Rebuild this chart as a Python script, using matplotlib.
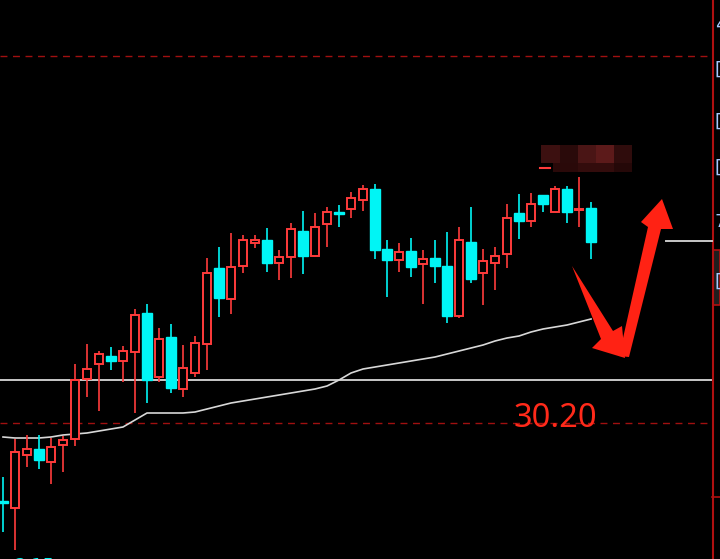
import matplotlib
matplotlib.use("Agg")
import matplotlib.pyplot as plt
from matplotlib.patches import Rectangle, Polygon

# daily candles, oldest first
opens  = [29.42, 29.35, 29.88, 29.94, 29.81, 29.98, 30.04, 30.64, 30.79, 30.87,
          30.82, 30.91, 31.30, 30.66, 31.06, 30.54, 30.70, 30.99, 31.75, 31.44,
          31.77, 32.00, 32.03, 31.80, 31.86, 32.12, 31.87, 32.19, 32.31, 32.34,
          32.43, 32.54, 31.94, 31.83, 31.92, 31.79, 31.85, 31.77, 31.27, 32.01,
          31.70, 31.80, 31.89, 32.30, 32.22, 32.48, 32.31, 32.54, 32.33, 32.35]
highs  = [29.66, 30.04, 30.08, 30.08, 30.05, 30.07, 30.79, 30.99, 30.92, 30.96,
          30.97, 31.34, 31.39, 31.15, 31.19, 30.98, 31.07, 31.85, 31.96, 32.10,
          32.08, 32.08, 32.15, 31.93, 32.20, 32.32, 32.30, 32.36, 32.38, 32.51,
          32.58, 32.59, 32.03, 32.00, 32.05, 31.93, 32.03, 32.11, 32.16, 32.36,
          31.94, 31.96, 32.39, 32.49, 32.50, 32.48, 32.57, 32.57, 32.66, 32.41]
lows   = [29.11, 28.93, 29.76, 29.74, 29.59, 29.71, 29.97, 30.46, 30.32, 30.73,
          30.61, 30.30, 30.40, 30.61, 30.50, 30.46, 30.66, 30.73, 31.26, 31.29,
          31.70, 31.95, 31.71, 31.63, 31.65, 31.69, 31.87, 31.96, 32.16, 32.25,
          32.32, 31.84, 31.46, 31.71, 31.66, 31.39, 31.60, 31.20, 31.25, 31.60,
          31.38, 31.53, 31.75, 32.04, 32.16, 32.31, 32.31, 32.20, 32.16, 31.84]
closes = [29.40, 29.91, 29.94, 29.83, 29.96, 30.03, 30.63, 30.74, 30.89, 30.82,
          30.92, 31.28, 30.63, 31.04, 30.55, 30.75, 31.00, 31.70, 31.45, 31.76,
          32.03, 32.03, 31.80, 31.86, 32.14, 31.87, 32.16, 32.31, 32.29, 32.45,
          32.54, 31.93, 31.83, 31.91, 31.76, 31.84, 31.77, 31.27, 32.03, 31.64,
          31.82, 31.87, 32.25, 32.22, 32.39, 32.39, 32.54, 32.31, 32.34, 32.01]
ma_line = [30.06, 30.05, 30.05, 30.05, 30.06, 30.08, 30.09, 30.10, 30.12, 30.14,
           30.16, 30.23, 30.30, 30.30, 30.30, 30.30, 30.31, 30.34, 30.37, 30.40,
           30.42, 30.44, 30.46, 30.48, 30.50, 30.52, 30.54, 30.57, 30.63, 30.70,
           30.74, 30.76, 30.78, 30.80, 30.82, 30.84, 30.86, 30.89, 30.92, 30.95,
           30.98, 31.02, 31.05, 31.07, 31.11, 31.14, 31.16, 31.18, 31.21, 31.24]
ref_level = 30.63       # white horizontal line
dash_levels = [33.87, 30.20]
mark_label = "30.20"

UP = '#ff3b3b'
DOWN = '#00f5f5'

fig = plt.figure(figsize=(7.2, 5.59), dpi=100, facecolor='black')
ax = fig.add_axes([0, 0, 712 / 720, 1])
ax.set_facecolor('black')
ax.set_xlim(-0.25, 59.08)
ax.set_ylim(28.84, 34.43)
ax.axis('off')

ax.axhline(ref_level, color='#c8c8c8', lw=1.4, zorder=1)
for lv in dash_levels:
    ax.axhline(lv, color='#a01010', lw=1.0, ls=(0, (5, 4)), zorder=1)

ax.plot(range(len(ma_line)), ma_line, color='#d8d8d8', lw=1.2, zorder=2)

for i in range(len(opens)):
    o, h, l, c = opens[i], highs[i], lows[i], closes[i]
    up = c >= o
    col = UP if up else DOWN
    ax.vlines(i, l, h, color=col, lw=1.2, zorder=3)
    bot, top = min(o, c), max(o, c)
    if up:
        ax.add_patch(Rectangle((i - 0.36, bot), 0.72, max(top - bot, 0.005),
                               facecolor='black', edgecolor=col, lw=1.4, zorder=4))
    else:
        ax.add_patch(Rectangle((i - 0.38, bot), 0.76, max(top - bot, 0.02),
                               facecolor=col, edgecolor=col, lw=1.0, zorder=4))

ax.text(46.0, 30.25, mark_label, color='#ff2a1a', fontsize=23.5,
        family='Noto Sans', ha='center', va='center', zorder=5)

# pixel helper for overlay annotations (figure pixels, origin top-left)
def fp(x, y):
    return (x / 720, 1 - y / 559)

# pixelated (blurred) label near the high
mosaic = [(541, 145, 19, 18, '#3c1010'), (560, 145, 18, 18, '#2a0a0a'),
          (578, 145, 18, 18, '#4a1515'), (596, 145, 18, 18, '#5c1a1a'),
          (614, 145, 18, 18, '#2f0c0c'), (553, 163, 25, 9, '#2a0909'),
          (578, 163, 36, 9, '#330c0c'), (614, 163, 18, 9, '#250808')]
for x, y, w, h, c in mosaic:
    fig.patches.append(Rectangle(fp(x, y + h), w / 720, h / 559, facecolor=c,
                                 edgecolor='none', transform=fig.transFigure, zorder=6))
fig.lines.append(plt.Line2D([540 / 720, 550 / 720], [1 - 168 / 559] * 2, color=UP, lw=1.5,
                            transform=fig.transFigure))

# red V arrows
arrow_down = [(572, 266), (613, 331), (622, 326), (625, 358), (592, 348), (601, 339)]
arrow_up = [(619, 356), (648, 227), (641, 222), (662, 199), (673, 229), (661, 229), (629, 357)]
for pts in (arrow_down, arrow_up):
    fig.patches.append(Polygon([fp(*p) for p in pts], closed=True, facecolor='#ff2214',
                               edgecolor='none', transform=fig.transFigure, zorder=7))

# right price-axis strip (cut off at the image edge, as in the screenshot)
fig.lines.append(plt.Line2D([712.5 / 720] * 2, [0, 1], color='#b01010', lw=1.5,
                            transform=fig.transFigure))
fig.lines.append(plt.Line2D([666 / 720, 712 / 720], [1 - 241 / 559] * 2, color='#c8c8c8',
                            lw=1.4, transform=fig.transFigure))
fig.patches.append(Rectangle(fp(713, 305), 7 / 720, 55 / 559, facecolor='#1e1e1e',
                             edgecolor='#b01010', lw=1.2, transform=fig.transFigure))
fig.lines.append(plt.Line2D([712 / 720, 720 / 720], [1 - 497 / 559] * 2, color='#b01010',
                            lw=1.2, transform=fig.transFigure))
for y, s in [(25, '4'), (70, '[3'), (122, '[3'), (168, '[3'), (222, '7'), (282, '[3')]:
    fig.text(*fp(715, y), s, color='#a8c8ff', fontsize=13, va='center', ha='left')

fig.text(*fp(15, 566), '2.15', color=DOWN, fontsize=13, va='center', ha='left')

fig.savefig('out.png', dpi=100, facecolor='black')
